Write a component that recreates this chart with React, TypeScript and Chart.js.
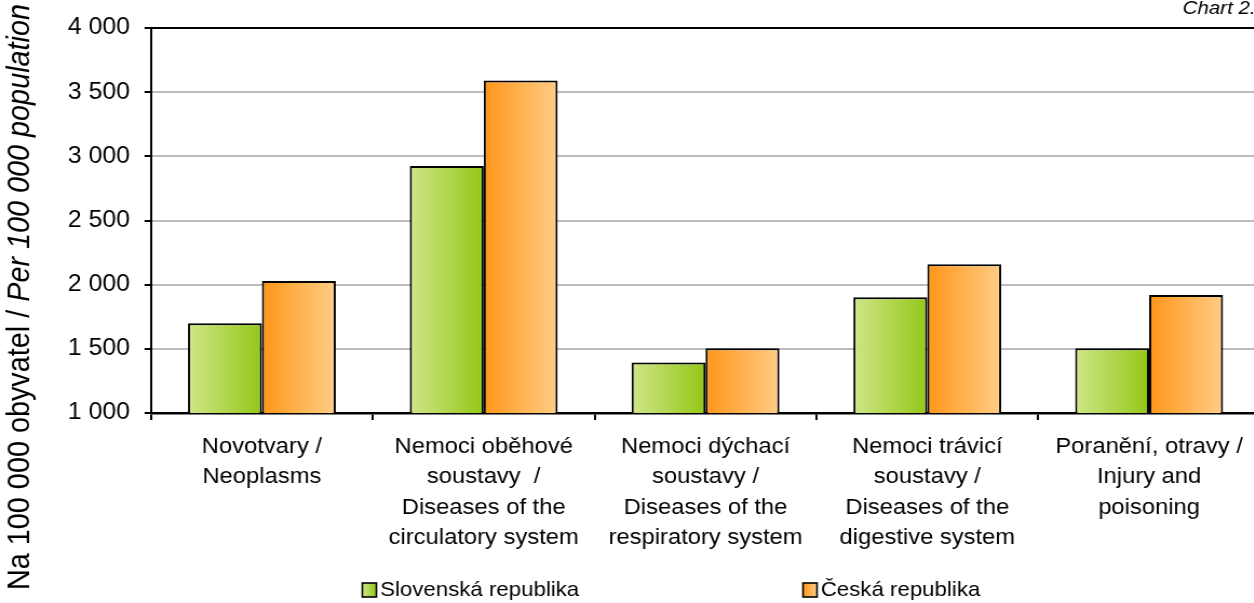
import { useEffect, useRef } from 'react';
import { Chart, registerables } from 'chart.js';

Chart.register(...registerables);

// ---------- data ----------
const categories: string[][] = [
  ['Novotvary /', 'Neoplasms'],
  ['Nemoci oběhové', 'soustavy  /', 'Diseases of the', 'circulatory system'],
  ['Nemoci dýchací', 'soustavy /', 'Diseases of the', 'respiratory system'],
  ['Nemoci trávicí', 'soustavy /', 'Diseases of the', 'digestive system'],
  ['Poranění, otravy /', 'Injury and', 'poisoning'],
];
const seriesNames = ['Slovenská republika', 'Česká republika'];
const slovakValues = [1700, 2925, 1393, 1902, 1504];
const czechValues = [2029, 3590, 1504, 2159, 1920];
const yMin = 1000;
const yMax = 4000;
const yStep = 500;
const yTitleNormal = 'Na 100 000 obyvatel / ';
const yTitleItalic = 'Per 100 000 population';
const chartNote = 'Chart 2.';

// ---------- styling ----------
const SX = 1.08; // horizontal stretch of the reference picture
const CANVAS_W = 1200;
const CANVAS_H = 603;
const FONT = '"Liberation Sans", Arial, sans-serif';
const CAT_PCT = 2 / 3;
const gradStops: string[][] = [
  ['#cfe688', '#94c717'],
  ['#ff961a', '#ffcd86'],
];

function fmt(v: number): string {
  return String(v).replace(/\B(?=(\d{3})+(?!\d))/g, ' ');
}

function barFill(ctx: any) {
  const chart = ctx.chart;
  const stops = gradStops[ctx.datasetIndex] || gradStops[0];
  const xs = chart.scales && chart.scales.x;
  if (!xs || !chart.chartArea || ctx.type !== 'data') return stops[1];
  const n = chart.data.labels.length;
  const cw = xs.width / n;
  const bw = (cw * CAT_PCT) / 2;
  const center = xs.getPixelForValue(ctx.dataIndex);
  const left = center - bw + ctx.datasetIndex * bw;
  const g = chart.ctx.createLinearGradient(left, 0, left + bw, 0);
  g.addColorStop(0, stops[0]);
  g.addColorStop(1, stops[1]);
  return g;
}

const decorPlugin = {
  id: 'decor',
  afterDraw(chart: any) {
    const c: CanvasRenderingContext2D = chart.ctx;
    c.save();
    // y axis title (rotated, mixed normal / italic)
    const tSize = 28.8;
    c.fillStyle = '#000';
    c.textBaseline = 'middle';
    c.textAlign = 'left';
    c.font = `${tSize}px ${FONT}`;
    const w1 = c.measureText(yTitleNormal).width;
    c.font = `italic ${tSize}px ${FONT}`;
    const w2 = c.measureText(yTitleItalic).width;
    const total = w1 + w2;
    c.translate(19, 297);
    c.rotate(-Math.PI / 2);
    c.font = `${tSize}px ${FONT}`;
    c.fillText(yTitleNormal, -total / 2, 0);
    c.font = `italic ${tSize}px ${FONT}`;
    c.fillText(yTitleItalic, -total / 2 + w1, 0);
    c.restore();

    // legend
    c.save();
    const items = [
      { box: 335.5, text: 352, name: seriesNames[0], stops: gradStops[0] },
      { box: 743.5, text: 760, name: seriesNames[1], stops: gradStops[1] },
    ];
    const cy = 590;
    const bs = 13;
    for (const it of items) {
      const g = c.createLinearGradient(it.box, 0, it.box + bs, 0);
      g.addColorStop(0, it.stops[0]);
      g.addColorStop(1, it.stops[1]);
      c.fillStyle = g;
      c.fillRect(it.box, cy - 7, bs, 14);
      c.strokeStyle = '#000';
      c.lineWidth = 1.6;
      c.strokeRect(it.box, cy - 7, bs, 14);
      c.fillStyle = '#000';
      c.font = `20.6px ${FONT}`;
      c.textBaseline = 'middle';
      c.textAlign = 'left';
      c.fillText(it.name, it.text, cy);
    }
    // chart note top right
    c.font = `italic 19px ${FONT}`;
    c.textBaseline = 'alphabetic';
    c.fillText(chartNote, 1095, 14);
    c.restore();
  },
};

export default function App() {
  const ref = useRef<HTMLCanvasElement | null>(null);

  useEffect(() => {
    const canvas = ref.current;
    if (!canvas) return;
    const chart = new Chart(canvas, {
      type: 'bar',
      data: {
        labels: categories,
        datasets: [
          {
            label: seriesNames[0],
            data: slovakValues,
            backgroundColor: barFill,
            borderColor: '#000',
            borderWidth: 2,
            borderSkipped: false,
            categoryPercentage: CAT_PCT,
            barPercentage: 1,
          },
          {
            label: seriesNames[1],
            data: czechValues,
            backgroundColor: barFill,
            borderColor: '#000',
            borderWidth: 2,
            borderSkipped: false,
            categoryPercentage: CAT_PCT,
            barPercentage: 1,
          },
        ],
      },
      options: {
        responsive: false,
        animation: false,
        devicePixelRatio: 1,
        layout: { padding: { top: 28, right: CANVAS_W - 1260 / SX, bottom: 0, left: 0 } },
        plugins: {
          legend: { display: false },
          tooltip: { enabled: false },
        },
        scales: {
          x: {
            ticks: {
              color: '#000',
              font: { family: FONT, size: 22, lineHeight: 30.5 / 22 },
              padding: 11.5,
              maxRotation: 0,
              autoSkip: false,
            },
            grid: {
              display: true,
              drawOnChartArea: false,
              tickColor: '#000',
              tickLength: 7,
              lineWidth: 2,
              offset: true,
            },
            border: { color: '#000', width: 2.5 },
            afterFit: (s: any) => {
              s.height = CANVAS_H - 413;
            },
          },
          y: {
            min: yMin,
            max: yMax,
            ticks: {
              stepSize: yStep,
              color: '#000',
              font: { family: FONT, size: 23 },
              padding: 13.5,
              callback: (v: any) => fmt(Number(v)),
            },
            grid: {
              color: (ctx: any) => (ctx.tick && ctx.tick.value === yMax ? '#000' : '#bdbdbd'),
              lineWidth: 2,
              tickColor: '#000',
              tickLength: 6,
            },
            border: { color: '#000', width: 2 },
            afterFit: (s: any) => {
              s.width = 151 / SX;
            },
          },
        },
      },
      plugins: [decorPlugin],
    } as any);
    return () => chart.destroy();
  }, []);

  return (
    <div
      style={{
        position: 'fixed',
        left: 0,
        top: 0,
        width: 1254,
        height: 603,
        overflow: 'hidden',
        background: '#fff',
      }}
    >
      <canvas
        ref={ref}
        width={CANVAS_W}
        height={CANVAS_H}
        style={{ transform: `scaleX(${SX})`, transformOrigin: '0 0', display: 'block' }}
      />
    </div>
  );
}
